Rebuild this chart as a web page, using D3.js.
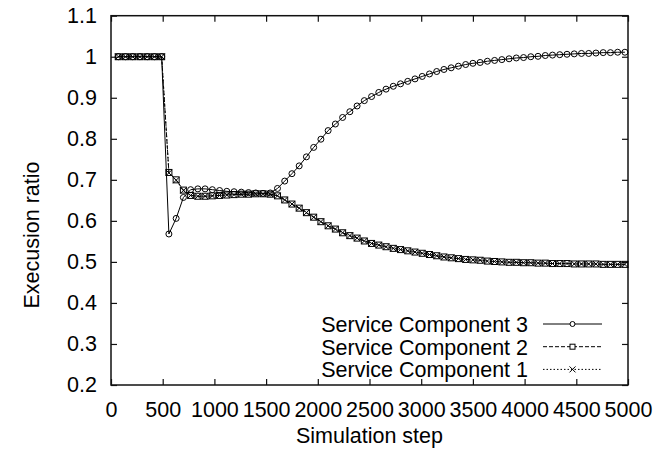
<!DOCTYPE html>
<html>
<head>
<meta charset="utf-8">
<script src="https://cdn.jsdelivr.net/npm/d3@7"></script>
<style>
  body { margin: 0; background: white; }
  text { font-family: "Liberation Sans", Arial, sans-serif; }
</style>
</head>
<body>
<svg id="chart" width="658" height="452"></svg>
<script>
// Simulation steps where a sample was recorded
var steps = [
  70, 140, 210, 280, 350, 420, 490, 560, 630, 700,
  770, 840, 910, 980, 1050, 1120, 1190, 1260, 1330, 1400,
  1470, 1540, 1610, 1680, 1750, 1820, 1890, 1960, 2030, 2100,
  2170, 2240, 2310, 2380, 2450, 2520, 2590, 2660, 2730, 2800,
  2870, 2940, 3010, 3080, 3150, 3220, 3290, 3360, 3430, 3500,
  3570, 3640, 3710, 3780, 3850, 3920, 3990, 4060, 4130, 4200,
  4270, 4340, 4410, 4480, 4550, 4620, 4690, 4760, 4830, 4900,
  4970
];

var component3 = [
  1, 1, 1, 1, 1, 1, 1, 0.568, 0.606, 0.657,
  0.676, 0.678, 0.678, 0.676, 0.674, 0.672, 0.671, 0.670, 0.669, 0.668,
  0.667, 0.668, 0.679, 0.697, 0.715, 0.734, 0.756, 0.779, 0.799, 0.820,
  0.836, 0.852, 0.866, 0.880, 0.893, 0.903, 0.913, 0.921, 0.928, 0.934,
  0.940, 0.946, 0.952, 0.958, 0.964, 0.969, 0.973, 0.977, 0.981, 0.984,
  0.986, 0.989, 0.991, 0.993, 0.995, 0.997, 0.998, 1.000, 1.001, 1.003,
  1.004, 1.005, 1.006, 1.007, 1.008, 1.008, 1.009, 1.010, 1.010, 1.011,
  1.011
];

var component2 = [
  1, 1, 1, 1, 1, 1, 1, 0.718, 0.700, 0.675,
  0.662, 0.660, 0.660, 0.661, 0.662, 0.663, 0.664, 0.665, 0.665, 0.666,
  0.666, 0.665, 0.661, 0.651, 0.641, 0.631, 0.620, 0.609, 0.598, 0.588,
  0.580, 0.571, 0.564, 0.558, 0.551, 0.545, 0.541, 0.537, 0.533, 0.530,
  0.527, 0.524, 0.521, 0.518, 0.515, 0.512, 0.510, 0.508, 0.506, 0.505,
  0.504, 0.502, 0.501, 0.500, 0.499, 0.499, 0.498, 0.498, 0.497, 0.497,
  0.496, 0.496, 0.496, 0.495, 0.495, 0.495, 0.495, 0.494, 0.494, 0.494,
  0.494
];

var component1 = [
  1, 1, 1, 1, 1, 1, 1, 0.717, 0.699, 0.674,
  0.662, 0.660, 0.660, 0.661, 0.662, 0.663, 0.664, 0.665, 0.665, 0.666,
  0.666, 0.665, 0.661, 0.651, 0.641, 0.631, 0.620, 0.609, 0.598, 0.588,
  0.580, 0.571, 0.564, 0.558, 0.551, 0.545, 0.541, 0.537, 0.533, 0.530,
  0.527, 0.524, 0.521, 0.518, 0.515, 0.512, 0.510, 0.508, 0.506, 0.505,
  0.504, 0.502, 0.501, 0.500, 0.499, 0.499, 0.498, 0.498, 0.497, 0.497,
  0.496, 0.496, 0.496, 0.495, 0.495, 0.495, 0.495, 0.494, 0.494, 0.494,
  0.494
];

var xTicks = [0, 500, 1000, 1500, 2000, 2500, 3000, 3500, 4000, 4500, 5000];
var yTicks = [0.2, 0.3, 0.4, 0.5, 0.6, 0.7, 0.8, 0.9, 1, 1.1];

var seriesNames = ["Service Component 3", "Service Component 2", "Service Component 1"];

// Sizing
var plotLeft = 111, plotRight = 628, plotTop = 15.7, plotBottom = 385;
var fontSize = "21.5px";

var svg = d3.select("#chart");

var x = d3.scaleLinear().domain([0, 5000]).range([plotLeft, plotRight]);
var y = d3.scaleLinear().domain([0.2, 1.1]).range([plotBottom, plotTop]);

// Axes, ticks pointing inward and mirrored
function styleAxis(g) {
  g.select(".domain").remove();
  g.selectAll("line").attr("stroke", "#111").attr("stroke-width", 1.2);
  g.selectAll("text").style("font-size", fontSize).attr("fill", "#000");
}

svg.append("g")
  .attr("transform", "translate(0," + plotBottom + ")")
  .call(d3.axisBottom(x).tickValues(xTicks).tickSize(-6).tickPadding(17).tickFormat(d3.format("d")))
  .call(styleAxis);

svg.append("g")
  .attr("transform", "translate(0," + plotTop + ")")
  .call(d3.axisTop(x).tickValues(xTicks).tickSize(-6).tickFormat(""))
  .call(styleAxis);

svg.append("g")
  .attr("transform", "translate(" + plotLeft + ",0)")
  .call(d3.axisLeft(y).tickValues(yTicks).tickSize(-6).tickPadding(14).tickFormat(function (d) {
    return d3.format("~g")(d);
  }))
  .call(styleAxis);

svg.append("g")
  .attr("transform", "translate(" + plotRight + ",0)")
  .call(d3.axisRight(y).tickValues(yTicks).tickSize(-6).tickFormat(""))
  .call(styleAxis);

// Border
svg.append("rect")
  .attr("x", plotLeft)
  .attr("y", plotTop)
  .attr("width", plotRight - plotLeft)
  .attr("height", plotBottom - plotTop)
  .attr("fill", "none")
  .attr("stroke", "#111")
  .attr("stroke-width", 1.5);

// Axis titles
svg.append("text")
  .attr("x", (plotLeft + plotRight) / 2)
  .attr("y", 443)
  .attr("text-anchor", "middle")
  .style("font-size", fontSize)
  .text("Simulation step");

svg.append("text")
  .attr("transform", "translate(39,235) rotate(-90)")
  .attr("text-anchor", "middle")
  .style("font-size", fontSize)
  .text("Execusion ratio");

// Markers
function drawMarker(g, kind, cx, cy) {
  if (kind === "circle") {
    g.append("circle").attr("cx", cx).attr("cy", cy).attr("r", 3)
      .attr("fill", "none").attr("stroke", "#000").attr("stroke-width", 1);
  } else if (kind === "square") {
    g.append("rect").attr("x", cx - 3).attr("y", cy - 3).attr("width", 6).attr("height", 6)
      .attr("fill", "none").attr("stroke", "#000").attr("stroke-width", 1);
  } else {
    g.append("path")
      .attr("d", "M" + (cx - 3) + "," + (cy - 3) + "L" + (cx + 3) + "," + (cy + 3) +
        "M" + (cx - 3) + "," + (cy + 3) + "L" + (cx + 3) + "," + (cy - 3))
      .attr("stroke", "#000").attr("stroke-width", 1);
  }
}

var series = [
  { name: seriesNames[2], values: component1, dash: "1.5,2", marker: "cross" },
  { name: seriesNames[1], values: component2, dash: "4,2", marker: "square" },
  { name: seriesNames[0], values: component3, dash: null, marker: "circle" }
];

var line = d3.line()
  .x(function (d) { return x(d[0]); })
  .y(function (d) { return y(d[1]); });

series.forEach(function (s) {
  var pts = steps.map(function (st, i) { return [st, s.values[i]]; });
  svg.append("path")
    .attr("d", line(pts))
    .attr("fill", "none")
    .attr("stroke", "#000")
    .attr("stroke-width", 1)
    .attr("stroke-dasharray", s.dash);
  var mg = svg.append("g");
  pts.forEach(function (p) {
    drawMarker(mg, s.marker, x(p[0]), y(p[1]));
  });
});

// Legend
var legendRows = [
  { name: seriesNames[0], dash: null, marker: "circle" },
  { name: seriesNames[1], dash: "4,2", marker: "square" },
  { name: seriesNames[2], dash: "1.5,2", marker: "cross" }
];

legendRows.forEach(function (r, i) {
  var cy = 324 + i * 22.7;
  svg.append("text")
    .attr("x", 528)
    .attr("y", cy + 8)
    .attr("text-anchor", "end")
    .style("font-size", fontSize)
    .text(r.name);
  svg.append("line")
    .attr("x1", 543).attr("x2", 602)
    .attr("y1", cy).attr("y2", cy)
    .attr("stroke", "#000").attr("stroke-width", 1)
    .attr("stroke-dasharray", r.dash);
  var g = svg.append("g");
  if (r.marker === "circle") {
    g.append("circle").attr("cx", 572.5).attr("cy", cy).attr("r", 2.5)
      .attr("fill", "white").attr("stroke", "#000");
  } else if (r.marker === "square") {
    g.append("rect").attr("x", 570).attr("y", cy - 2.5).attr("width", 5).attr("height", 5)
      .attr("fill", "white").attr("stroke", "#000");
  } else {
    drawMarker(g, "cross", 572.5, cy);
  }
});
</script>
</body>
</html>
